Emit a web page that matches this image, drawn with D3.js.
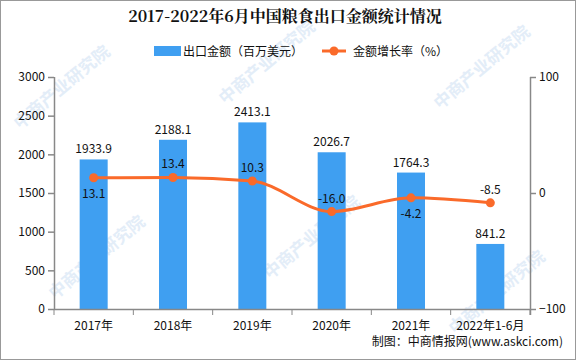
<!DOCTYPE html>
<html>
<head>
<meta charset="utf-8">
<script src="https://cdn.jsdelivr.net/npm/d3@7"></script>
<style>
  html, body { margin: 0; padding: 0; background: #fff; }
  svg text { font-family: "Noto Sans CJK SC", "DejaVu Sans", sans-serif; }
</style>
</head>
<body>
<div id="chart"></div>
<script>
const years = ["2017年", "2018年", "2019年", "2020年", "2021年", "2022年1-6月"];
const exportValue = [1933.9, 2188.1, 2413.1, 2026.7, 1764.3, 841.2];
const growthRate = [13.1, 13.4, 10.3, -16.0, -4.2, -8.5];
const leftTicks = [0, 500, 1000, 1500, 2000, 2500, 3000];
const rightTicks = [-100, 0, 100];
// growth label goes above (-1) or below (1) the point
const rateLabelSide = [1, -1, -1, -1, 1, -1];

function drawChart() {
    const width = 576, height = 360;
    const margin = { top: 77, right: 46, bottom: 51, left: 54 };
    const plotW = width - margin.left - margin.right;
    const plotH = height - margin.top - margin.bottom;

    const svg = d3.select("#chart").append("svg")
        .attr("width", width)
        .attr("height", height);

    // outer frame
    svg.append("rect")
        .attr("x", 0.5).attr("y", 0.5)
        .attr("width", width - 1).attr("height", height - 1)
        .attr("fill", "#fff").attr("stroke", "#999");

    // faint watermarks (kept inside the frame)
    const wm = svg.append("g").attr("fill", "#e3edf8").attr("font-size", 17).attr("font-weight", "bold");
    [[20, 130], [225, 105], [440, 110], [55, 300], [270, 280], [455, 335]].forEach(p => {
        wm.append("text")
            .attr("transform", `translate(${p[0]},${p[1]}) rotate(-40)`)
            .text("中商产业研究院");
    });

    const g = svg.append("g").attr("transform", `translate(${margin.left},${margin.top})`);

    const x = d3.scaleBand().domain(years).range([0, plotW]);
    const yL = d3.scaleLinear().domain([0, 3000]).range([plotH, 0]);
    const yR = d3.scaleLinear().domain([-100, 100]).range([plotH, 0]);

    const axisColor = "#888";

    // bars
    const barW = 28;
    g.selectAll("rect.bar")
        .data(exportValue)
        .enter()
        .append("rect")
        .attr("class", "bar")
        .attr("x", (d, i) => x(years[i]) + x.bandwidth() / 2 - barW / 2)
        .attr("y", d => yL(d))
        .attr("width", barW)
        .attr("height", d => plotH - yL(d))
        .attr("fill", "#3f9ff1");

    g.selectAll("text.barlabel")
        .data(exportValue)
        .enter()
        .append("text")
        .attr("x", (d, i) => x(years[i]) + x.bandwidth() / 2)
        .attr("y", d => yL(d) - 6)
        .attr("text-anchor", "middle")
        .attr("font-size", 12)
        .attr("fill", "#111")
        .text(d => d.toFixed(1));

    // line
    const pts = growthRate.map((d, i) => [x(years[i]) + x.bandwidth() / 2, yR(d)]);
    g.append("path")
        .attr("d", d3.line().curve(d3.curveMonotoneX)(pts))
        .attr("fill", "none")
        .attr("stroke", "#fa6a2a")
        .attr("stroke-width", 3);

    g.selectAll("circle.pt")
        .data(pts)
        .enter()
        .append("circle")
        .attr("cx", d => d[0])
        .attr("cy", d => d[1])
        .attr("r", 4.5)
        .attr("fill", "#fa6a2a");

    g.selectAll("text.ratelabel")
        .data(growthRate)
        .enter()
        .append("text")
        .attr("x", (d, i) => pts[i][0])
        .attr("y", (d, i) => pts[i][1] + (rateLabelSide[i] > 0 ? 20 : -9))
        .attr("text-anchor", "middle")
        .attr("font-size", 12)
        .attr("fill", "#111")
        .text(d => d.toFixed(1));

    // axes
    const axL = g.append("g").call(d3.axisLeft(yL).tickValues(leftTicks).tickSize(6).tickFormat(d3.format("d")));
    const axR = g.append("g").attr("transform", `translate(${plotW},0)`)
        .call(d3.axisRight(yR).tickValues(rightTicks).tickSize(6).tickFormat(d => d < 0 ? "\u2212" + Math.abs(d) : d));
    const axB = g.append("g").attr("transform", `translate(0,${plotH})`)
        .call(d3.axisBottom(x).tickSize(0).tickPadding(12));

    // boundary ticks on the x axis
    axB.selectAll("line.bt")
        .data(d3.range(years.length + 1))
        .enter()
        .append("line")
        .attr("class", "bt")
        .attr("x1", i => i * x.bandwidth())
        .attr("x2", i => i * x.bandwidth())
        .attr("y1", 0).attr("y2", 6)
        .attr("stroke", axisColor);

    [axL, axR, axB].forEach(ax => {
        ax.selectAll("path.domain").attr("stroke", axisColor).attr("stroke-width", 1.5);
        ax.selectAll(".tick line").attr("stroke", axisColor).attr("stroke-width", 1.5);
        ax.selectAll("text").attr("font-size", 12).attr("fill", "#111")
            .attr("font-family", "\"Noto Sans CJK SC\", \"DejaVu Sans\", sans-serif");
    });
    axL.select("path.domain").attr("d", `M0.5,0V${plotH}`);
    axR.select("path.domain").attr("d", `M0.5,0V${plotH + 6}`);
    axB.select("path.domain").attr("d", `M0,0.5H${plotW}`);

    // title
    svg.append("text")
        .attr("x", 285).attr("y", 22)
        .attr("text-anchor", "middle")
        .attr("font-size", 16)
        .attr("font-weight", "bold")
        .attr("fill", "#111")
        .style("font-family", "\"Noto Serif CJK SC\", \"DejaVu Serif\", serif")
        .text("2017-2022年6月中国粮食出口金额统计情况");

    // legend
    const lg = svg.append("g").attr("font-size", 12).attr("fill", "#111");
    lg.append("rect").attr("x", 154).attr("y", 46).attr("width", 27).attr("height", 10).attr("fill", "#3f9ff1");
    lg.append("text").attr("x", 183).attr("y", 56).text("出口金额（百万美元）");
    lg.append("line").attr("x1", 322).attr("x2", 346).attr("y1", 51).attr("y2", 51)
        .attr("stroke", "#fa6a2a").attr("stroke-width", 3);
    lg.append("circle").attr("cx", 334).attr("cy", 51).attr("r", 4.5).attr("fill", "#fa6a2a");
    lg.append("text").attr("x", 353).attr("y", 56).text("金额增长率（%）");

    // source note
    svg.append("text")
        .attr("x", 563).attr("y", 346)
        .attr("text-anchor", "end")
        .attr("font-size", 12)
        .attr("fill", "#111")
        .text("制图：中商情报网(www.askci.com)");
}

document.addEventListener("DOMContentLoaded", drawChart);
</script>
</body>
</html>
